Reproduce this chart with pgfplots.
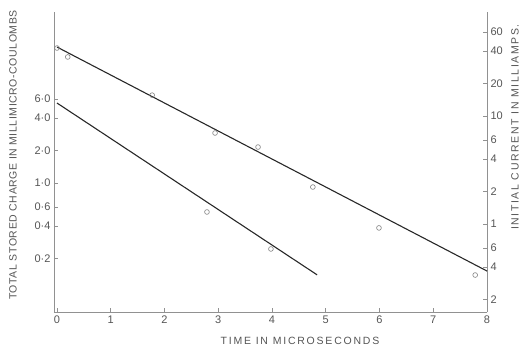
\documentclass[border=0pt]{standalone}
\usepackage{fontspec}
\setmainfont{Liberation Sans}
\newfontfamily\lblL[LetterSpace=5.5]{Liberation Sans}
\newfontfamily\lblR[LetterSpace=15.5]{Liberation Sans}
\newfontfamily\lblX[LetterSpace=17]{Liberation Sans}
\usepackage{pgfplots}
\pgfplotsset{compat=1.18}
\definecolor{txt}{RGB}{85,85,85}
\definecolor{axc}{RGB}{145,145,145}
\definecolor{ln}{RGB}{40,40,40}
\definecolor{mk}{RGB}{130,130,130}
\begin{document}
\begin{tikzpicture}
\useasboundingbox (-54pt,-37pt) rectangle (471pt,312pt);
% left axis: total stored charge
\begin{axis}[
  at={(0pt,0pt)}, anchor=south west,
  scale only axis, width=433pt, height=300pt,
  xmin=-0.056, xmax=8, ymode=log,
  ymin=0.0639, ymax=38.3,
  axis x line*=bottom, axis y line*=left,
  axis line style={axc, line width=0.6pt, -},
  tick style={axc, line width=0.6pt},
  major tick length=4pt,
  yminorticks=false, xminorticks=false,
  ticklabel style={font=\fontsize{11}{12}\selectfont, text=txt},
  clip=false,
  tick align=inside,
  xtick={0,1,2,3,4,5,6,7,8},
  xticklabels={0,1,2,3,4,5,6,7,8},
  ytick={6,4,2,1,0.6,0.4,0.2},
  yticklabels={6·0,4·0,2·0,1·0,0·6,0·4,0·2},
]
\addplot[ln, line width=1.1pt] coordinates {(0,5.5) (4.84,0.141)};
\addplot[only marks, mark=o, mark size=2.4pt, mk, mark options={line width=0.6pt}]
  coordinates {(2.79,0.539) (3.98,0.245)};
\end{axis}
% right axis: initial current
\begin{axis}[
  at={(0pt,0pt)}, anchor=south west,
  scale only axis, width=433pt, height=300pt,
  xmin=-0.056, xmax=8, ymode=log,
  ymin=0.1532, ymax=91.8,
  axis x line=none, axis y line*=right,
  axis line style={axc, line width=0.6pt, -},
  tick style={axc, line width=0.6pt},
  major tick length=4pt,
  yminorticks=false, xminorticks=false,
  ticklabel style={font=\fontsize{11}{12}\selectfont, text=txt},
  clip=false,
  tick align=inside,
  ytick={60,40,20,10,6,4,2,1,0.6,0.4,0.2},
  yticklabels={60,40,20,10,6,4,2,1,6,4,2},
]
\addplot[ln, line width=1.1pt] coordinates {(0,43.5) (8,0.367)};
\addplot[only marks, mark=o, mark size=2.4pt, mk, mark options={line width=0.6pt}]
  coordinates {(0,42.6) (0.2,35.2) (1.77,15.6) (2.94,6.96) (3.74,5.16) (4.76,2.2) (5.99,0.92) (7.78,0.337)};
\end{axis}
\node[rotate=90, text=txt, font=\lblL\fontsize{10.5}{11}\selectfont] at (-41pt,157pt) {TOTAL STORED CHARGE IN MILLIMICRO-COULOMBS};
\node[rotate=90, text=txt, font=\lblR\fontsize{10.5}{11}\selectfont] at (461pt,185pt) {INITIAL CURRENT IN MILLIAMPS.};
\node[text=txt, font=\lblX\fontsize{10.5}{11}\selectfont] at (246pt,-29pt) {TIME IN MICROSECONDS};
\end{tikzpicture}
\end{document}
